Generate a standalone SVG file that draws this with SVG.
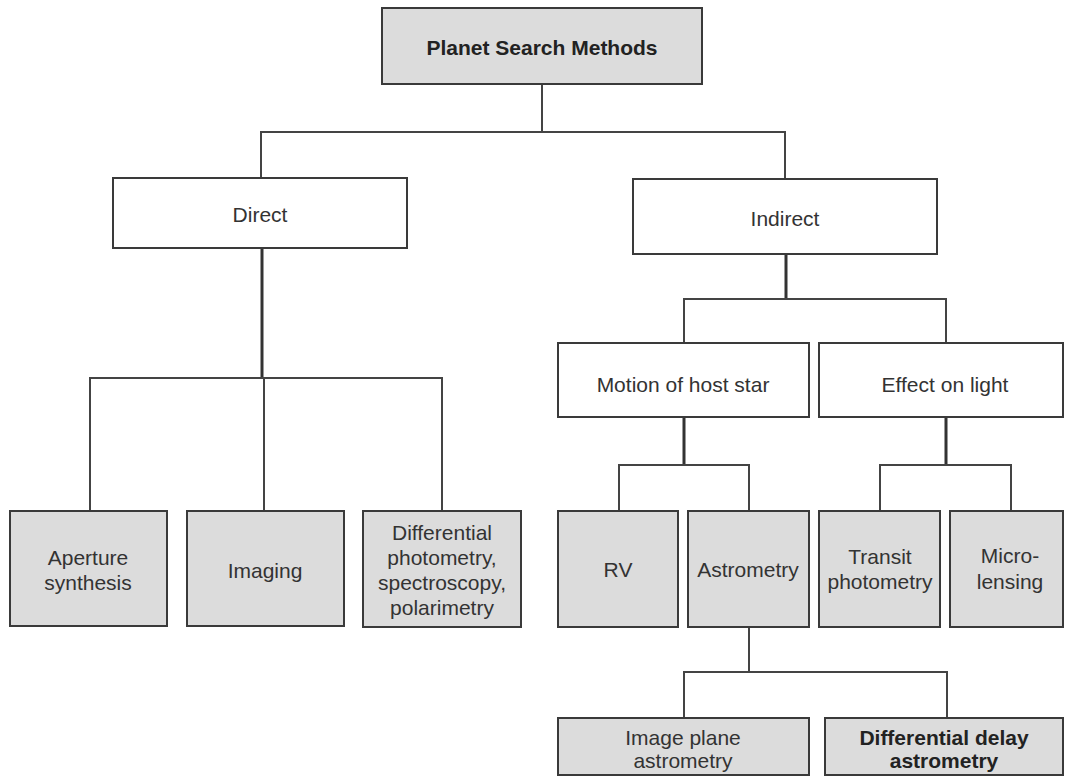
<svg xmlns="http://www.w3.org/2000/svg" width="1065" height="776" viewBox="0 0 1065 776">
<style>
.box{stroke:#3a3a3a;stroke-width:2}
.g{fill:#dcdcdc}
.w{fill:#ffffff}
.t{font-family:"Liberation Sans",Arial,sans-serif;font-size:21px;fill:#333;text-anchor:middle}
.b{font-weight:bold;fill:#222}
.c{fill:none;stroke:#444;stroke-width:2}
.ck{fill:none;stroke:#333;stroke-width:3}
</style>
<rect width="1065" height="776" fill="#ffffff"/>
<g id="connectors">
<path class="c" d="M542 84V132M261 178V132H785V179"/>
<path class="ck" d="M262 248V378"/>
<path class="c" d="M90 511V378H442V511M264 378V511"/>
<path class="ck" d="M786 254V299"/>
<path class="c" d="M684 343V299H946V343"/>
<path class="ck" d="M684 417V465M946 417V465"/>
<path class="c" d="M619 511V465H749V511M880 511V465H1011V511"/>
<path class="c" d="M749 627V672M684 718V672H947V718"/>
</g>
<g id="n-root"><rect class="box g" x="382" y="8" width="320" height="76"/><text class="t b" x="542" y="55">Planet Search Methods</text></g>
<g id="n-direct"><rect class="box w" x="113" y="178" width="294" height="70"/><text class="t" x="260" y="222">Direct</text></g>
<g id="n-indirect"><rect class="box w" x="633" y="179" width="304" height="75"/><text class="t" x="785" y="226">Indirect</text></g>
<g id="n-aperture"><rect class="box g" x="10" y="511" width="157" height="115"/><text class="t" x="88" y="565">Aperture</text><text class="t" x="88" y="590">synthesis</text></g>
<g id="n-imaging"><rect class="box g" x="187" y="511" width="157" height="115"/><text class="t" x="265" y="578">Imaging</text></g>
<g id="n-diffphot"><rect class="box g" x="363" y="511" width="158" height="116"/><text class="t" x="442" y="540">Differential</text><text class="t" x="442" y="565">photometry,</text><text class="t" x="442" y="590">spectroscopy,</text><text class="t" x="442" y="615">polarimetry</text></g>
<g id="n-motion"><rect class="box w" x="558" y="343" width="251" height="74"/><text class="t" x="683" y="392">Motion of host star</text></g>
<g id="n-effect"><rect class="box w" x="819" y="343" width="244" height="74"/><text class="t" x="945" y="392">Effect on light</text></g>
<g id="n-rv"><rect class="box g" x="558" y="511" width="120" height="116"/><text class="t" x="618" y="577">RV</text></g>
<g id="n-astrometry"><rect class="box g" x="688" y="511" width="121" height="116"/><text class="t" x="748" y="577">Astrometry</text></g>
<g id="n-transit"><rect class="box g" x="819" y="511" width="121" height="116"/><text class="t" x="880" y="564">Transit</text><text class="t" x="880" y="589">photometry</text></g>
<g id="n-micro"><rect class="box g" x="950" y="511" width="113" height="116"/><text class="t" x="1010" y="563">Micro-</text><text class="t" x="1010" y="589">lensing</text></g>
<g id="n-imageplane"><rect class="box g" x="558" y="718" width="251" height="57"/><text class="t" x="683" y="745">Image plane</text><text class="t" x="683" y="768">astrometry</text></g>
<g id="n-diffdelay"><rect class="box g" x="825" y="718" width="238" height="57"/><text class="t b" x="944" y="745">Differential delay</text><text class="t b" x="944" y="768">astrometry</text></g>
</svg>
